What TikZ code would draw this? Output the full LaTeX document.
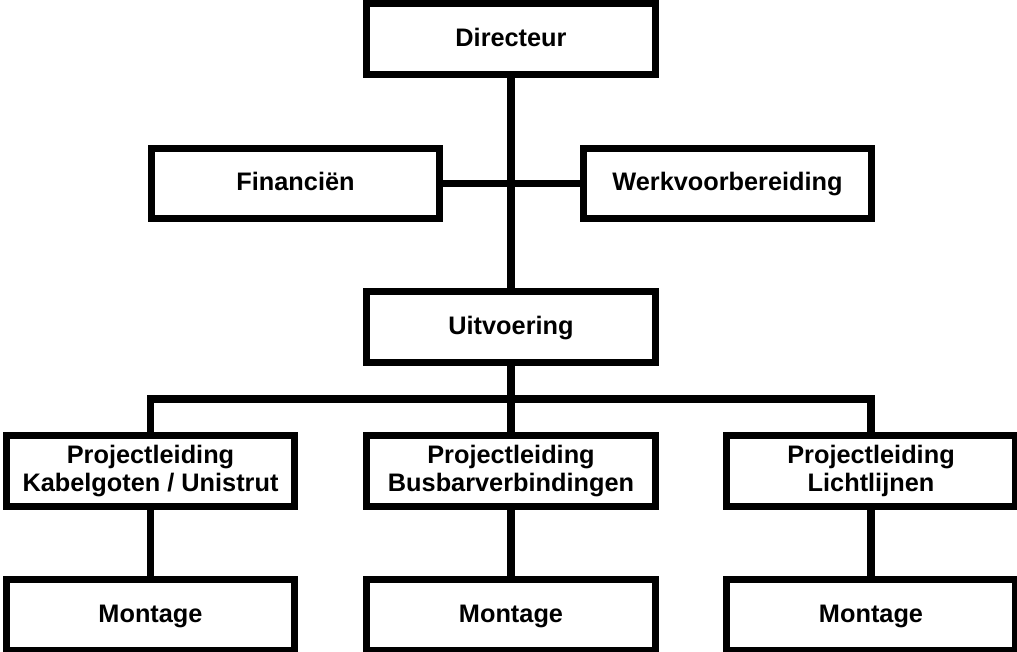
\documentclass[tikz,border=0pt]{standalone}
\usepackage{fontspec}
\setmainfont{Liberation Sans}
\usetikzlibrary{positioning}
\tikzset{%
	unit/.style  = {draw, rectangle, line width=5pt, minimum width=7.2cm, minimum height=1.76cm, align=center, font=\bfseries\fontsize{18}{20}\selectfont, inner sep=0pt},
	single/.style = {unit, text height=12pt, text depth=2pt},
	link/.style  = {line width=5pt},
}
\begin{document}
\begin{tikzpicture}[x=0.025cm,y=-0.025cm]
	\useasboundingbox (0,0) rectangle (1017,651);
	\node[single] (dir) at (511,39) {Directeur};
	\node[single] (fin) at (295.5,183.5) {Financiën};
	\node[single] (wvb) at (727.5,183.5) {Werkvoorbereiding};
	\node[single] (uit) at (511,327) {Uitvoering};
	\node[unit] (pkg) at (150.5,471) {Projectleiding\\Kabelgoten / Unistrut};
	\node[unit] (pbv) at (511,471) {Projectleiding\\Busbarverbindingen};
	\node[unit] (pll) at (871,471) {Projectleiding\\Lichtlijnen};
	\node[single] (mkg) at (150.5,615) {Montage};
	\node[single] (mbv) at (511,615) {Montage};
	\node[single] (mll) at (871,615) {Montage};
	\coordinate (bus) at (511,399);
	% lines
	\draw[link] (dir) -- (uit);
	\draw[link] (fin) -- (wvb);
	\draw[link] (uit) -- (pbv);
	\draw[link] (pkg.north) |- (bus) -| (pll.north);
	\draw[link] (pkg) -- (mkg);
	\draw[link] (pbv) -- (mbv);
	\draw[link] (pll) -- (mll);
\end{tikzpicture}
\end{document}
